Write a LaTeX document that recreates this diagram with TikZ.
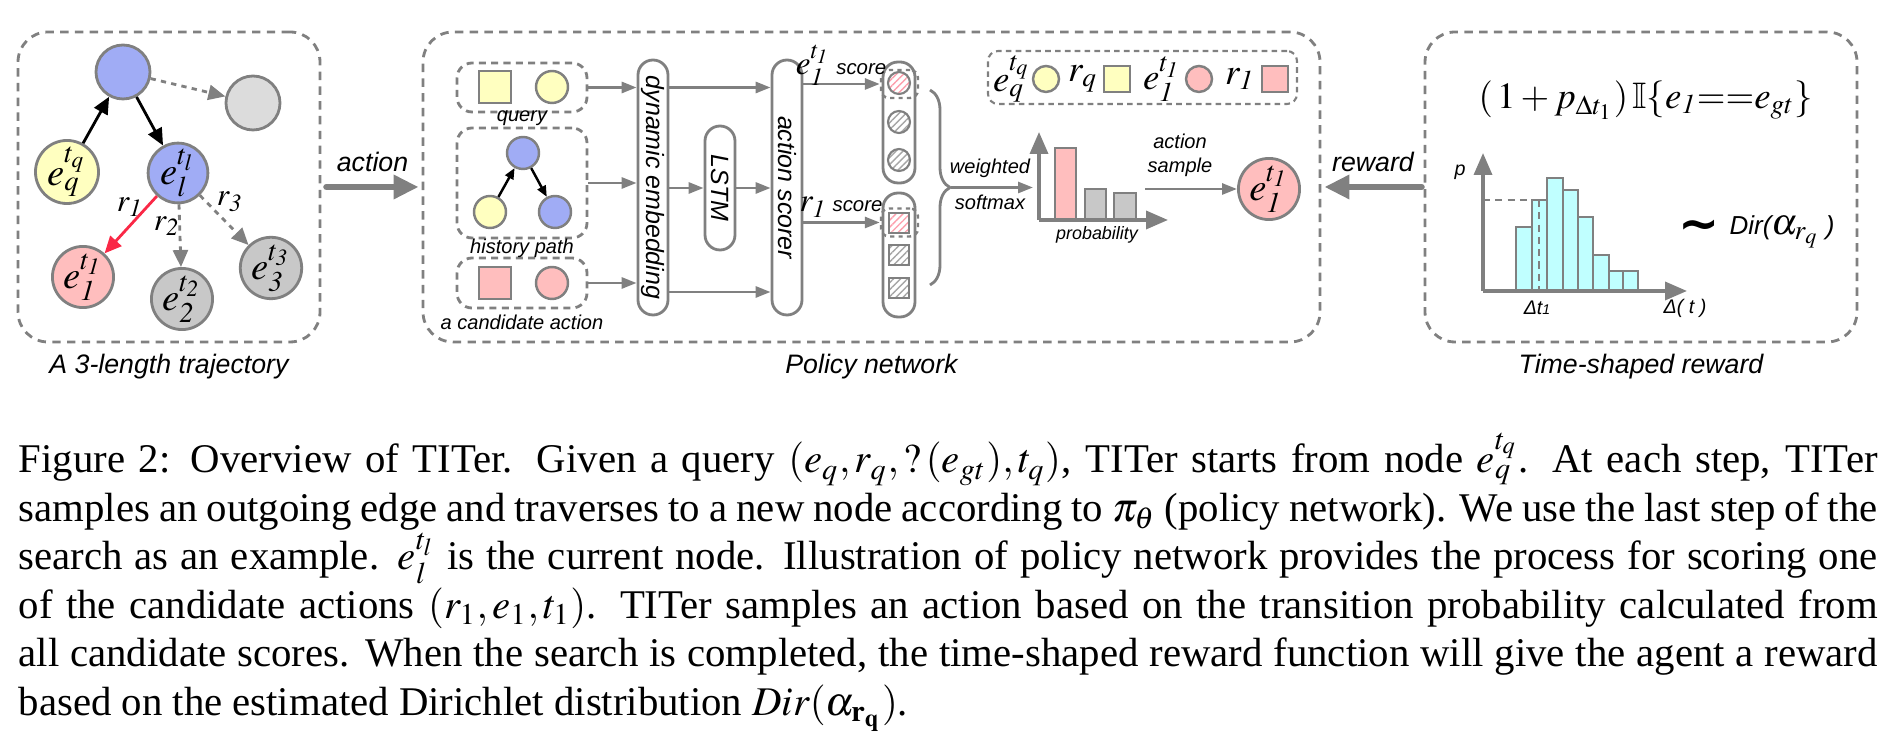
\documentclass[tikz,border=0pt]{standalone}
\usepackage{mathptmx}
\usepackage{amssymb}
\usepackage{fontspec}
\setmainfont{Liberation Serif}
\setsansfont{Liberation Sans}
\newfontfamily\symbfont{DejaVu Sans}
\usetikzlibrary{arrows.meta,positioning,patterns.meta,decorations.pathreplacing}

\definecolor{nodeblue}{RGB}{160,172,245}
\definecolor{nodeyellow}{RGB}{255,255,192}
\definecolor{nodepink}{RGB}{255,190,190}
\definecolor{nodegray}{RGB}{200,200,200}
\definecolor{nodelight}{RGB}{220,220,220}
\definecolor{edgegray}{RGB}{128,128,128}
\definecolor{barcyan}{RGB}{192,255,255}
\definecolor{arrowred}{RGB}{250,40,70}

\newcommand{\capline}[1]{\makebox[185.9mm][s]{#1}}

\begin{document}
\begin{tikzpicture}[x=0.1mm, y=-0.1mm]
\tikzstyle{panel} = [draw=edgegray, line width=0.8pt, dash pattern=on 2.4pt off 1.8pt, rounded corners=3mm, minimum height=31mm]
\tikzstyle{subpanel} = [draw=edgegray, line width=0.8pt, dash pattern=on 2pt off 1.5pt, rounded corners=1.5mm, minimum width=13mm]
\tikzstyle{ent} = [circle, draw=edgegray, line width=0.8pt, minimum size=5.4mm, inner sep=0pt, font=\fontsize{11}{11}\selectfont]
\tikzstyle{dot} = [circle, draw=edgegray, line width=0.7pt, minimum size=3.2mm, inner sep=0pt]
\tikzstyle{sq} = [rectangle, draw=edgegray, line width=0.7pt, minimum size=3.2mm, inner sep=0pt]
\tikzstyle{capsule} = [rectangle, draw=edgegray, line width=0.8pt, rounded corners=1.5mm, minimum width=3mm, inner sep=0pt, fill=white]
\tikzstyle{hilite} = [rectangle, draw=edgegray, line width=0.7pt, dash pattern=on 1.2pt off 1.2pt, rounded corners=0.8mm, minimum width=3.7mm, minimum height=2.8mm]
\tikzstyle{lbl} = [font=\sffamily\itshape\fontsize{7.6}{9}\selectfont, inner sep=0pt]
\tikzstyle{rot} = [font=\sffamily\itshape\fontsize{7.1}{8}\selectfont, inner sep=0pt, rotate=-90]
\tikzstyle{small} = [font=\sffamily\itshape\fontsize{5.7}{6.9}\selectfont, inner sep=0pt]
\tikzstyle{arrow} = [draw=black, line width=0.8pt, -{Triangle[length=1.7mm, width=1.5mm]}]
\tikzstyle{smallarrow} = [draw=black, line width=0.7pt, -{Triangle[length=1.1mm, width=0.9mm]}]
\tikzstyle{maybe} = [draw=edgegray, line width=0.8pt, dash pattern=on 1.5pt off 1.5pt, -{Triangle[length=1.7mm, width=1.5mm]}]
\tikzstyle{flow} = [draw=edgegray, line width=0.8pt, -{Triangle[length=1.5mm, width=1.1mm]}]
\tikzstyle{bigflow} = [draw=edgegray, line width=1.8pt, line cap=round, -{Triangle[length=2.5mm, width=2.3mm]}]
\tikzstyle{axis} = [draw=edgegray, line width=1pt, -{Triangle[length=2.2mm, width=1.8mm]}]
\tikzstyle{bar} = [draw=edgegray, line width=0.8pt]
\tikzstyle{guide} = [draw=edgegray, line width=0.8pt, dash pattern=on 2pt off 1.5pt]
\tikzstyle{capt} = [anchor=base west, inner sep=0pt, font=\fontsize{11.6}{13.9}\selectfont]
\useasboundingbox (0,0) rectangle (1895,748);

% three panels
\node [panel, minimum width=30.2mm] (traj) at (169,187) {};
\node [panel, minimum width=89.7mm] (policy) at (871.5,187) {};
\node [panel, minimum width=43.2mm] (timerew) at (1641,187) {};
\node [lbl, below=1mm of traj] (trajlbl) {A 3-length trajectory};
\node [lbl, below=1mm of policy] (policylbl) {Policy network};
\node [lbl, below=1mm of timerew] (timerewlbl) {Time-shaped reward};

% trajectory
\node [ent, fill=nodeblue] (root) at (123,72) {};
\node [ent, fill=nodelight] (skip) at (253,103) {};
\node [ent, fill=nodeyellow] (eq) at (67,172) {$e_q^{t_q}$};
\node [ent, fill=nodeblue] (el) at (178,173) {$e_l^{t_l}$};
\node [ent, fill=nodepink] (ea) at (83,277) {$e_{\mathit 1}^{t_{\mathit 1}}$};
\node [ent, fill=nodegray] (eb) at (182,299) {$e_{\mathit 2}^{t_{\mathit 2}}$};
\node [ent, fill=nodegray] (ec) at (271,268) {$e_{\mathit 3}^{t_{\mathit 3}}$};
\draw [arrow] (eq) -- (root);
\draw [arrow] (root) -- (el);
\draw [maybe] (root) -- (skip);
\draw [arrow, draw=arrowred] (el) -- (ea);
\draw [maybe] (el) -- (eb);
\draw [maybe] (el) -- (ec);
\node [font=\fontsize{9}{9}\selectfont] (rone) at (130,207) {$r_{\mathit 1}$};
\node [font=\fontsize{9}{9}\selectfont] (rtwo) at (167,226) {$r_{\mathit 2}$};
\node [font=\fontsize{9}{9}\selectfont] (rthree) at (230,202) {$r_{\mathit 3}$};

\draw [bigflow] ([xshift=0.5mm]traj.east) -- ([xshift=-0.3mm]policy.west) node [lbl, midway, above=1.2mm] (actlbl) {action};
\draw [bigflow] ([xshift=-0.2mm]timerew.west) -- ([xshift=0.3mm]policy.east) node [lbl, midway, above=1.2mm] (rewlbl) {reward};

% inputs
\node [subpanel, minimum height=4.9mm] (qbox) at (522,87.5) {};
\node [subpanel, minimum height=11mm] (hbox) at (522,183) {};
\node [subpanel, minimum height=5mm] (cbox) at (522,283) {};
\node [small] (qlbl) at (522,118) {query};
\node [small] (hlbl) at (522,248) {history path};
\node [small] (clbl) at (522,322) {a candidate action};
\node [sq, fill=nodeyellow] (qrel) at (495,87) {};
\node [dot, fill=nodeyellow] (qent) at (552,87) {};
\node [dot, fill=nodeblue] (htop) at (523,153) {};
\node [dot, fill=nodeyellow] (hleft) at (490,212) {};
\node [dot, fill=nodeblue] (hright) at (555,212) {};
\draw [smallarrow] (hleft) -- (htop);
\draw [smallarrow] (htop) -- (hright);
\node [sq, fill=nodepink] (crel) at (495,283) {};
\node [dot, fill=nodepink] (cent) at (552,283) {};

% embedding, lstm, scorer
\node [capsule, minimum height=25.5mm] (dyn) at (653,187.5) {};
\node [rot] (dynlbl) at (dyn.center) {dynamic embedding};
\node [capsule, minimum height=12.4mm] (lstm) at (720,188) {};
\node [rot] (lstmlbl) at (lstm.center) {LSTM};
\node [capsule, minimum height=25.5mm] (scorer) at (787,187.5) {};
\node [rot] (scorerlbl) at (scorer.center) {action scorer};
\draw [flow] (qbox.east) -- (qbox.east -| dyn.west);
\draw [flow] (hbox.east) -- (hbox.east -| dyn.west);
\draw [flow] (cbox.east) -- (cbox.east -| dyn.west);
\draw [flow] (dyn.east |- qbox.east) -- (scorer.west |- qbox.east);
\draw [flow] (dyn.east |- lstm.west) -- (lstm.west);
\draw [flow] (lstm.east) -- (lstm.east -| scorer.west);
\draw [flow] (dyn.east |- 0,292) -- (scorer.west |- 0,292);

% candidate scores
\node [capsule, minimum width=3.2mm, minimum height=12.1mm] (ecol) at (899,122.5) {};
\node [capsule, minimum width=3.2mm, minimum height=12.4mm] (rcol) at (899,255) {};
\node [circle, draw=edgegray, line width=0.6pt, minimum size=2.2mm, inner sep=0pt, pattern={Lines[angle=45, distance=1.4pt, line width=0.4pt]}, pattern color=arrowred!45] (eh1) at (899,83) {};
\node [circle, draw=edgegray, line width=0.6pt, minimum size=2.2mm, inner sep=0pt, pattern={Lines[angle=45, distance=1.4pt, line width=0.4pt]}, pattern color=edgegray!70] (eh2) at (899,122) {};
\node [circle, draw=edgegray, line width=0.6pt, minimum size=2.2mm, inner sep=0pt, pattern={Lines[angle=45, distance=1.4pt, line width=0.4pt]}, pattern color=edgegray!70] (eh3) at (899,160) {};
\node [rectangle, draw=edgegray, line width=0.6pt, minimum size=2mm, inner sep=0pt, pattern={Lines[angle=45, distance=1.4pt, line width=0.4pt]}, pattern color=arrowred!45] (rh1) at (899,223) {};
\node [rectangle, draw=edgegray, line width=0.6pt, minimum size=2mm, inner sep=0pt, pattern={Lines[angle=45, distance=1.4pt, line width=0.4pt]}, pattern color=edgegray!70] (rh2) at (899,255) {};
\node [rectangle, draw=edgegray, line width=0.6pt, minimum size=2mm, inner sep=0pt, pattern={Lines[angle=45, distance=1.4pt, line width=0.4pt]}, pattern color=edgegray!70] (rh3) at (899,288) {};
\node [hilite] (ehi) at (899.5,84) {};
\node [hilite] (rhi) at (899.5,222.5) {};
\draw [flow] (scorer.east |- ehi.west) -- (ehi.west);
\draw [flow] (scorer.east |- rhi.west) -- (rhi.west);
\node [anchor=base, inner sep=0pt] (escore) at (841,75) {{\fontsize{9.5}{10}\selectfont$e_{\mathit 1}^{t_{\mathit 1}}$}\,{\sffamily\itshape\fontsize{5.8}{7}\selectfont score}};
\node [anchor=base, inner sep=0pt] (rscore) at (841,212) {{\fontsize{9.5}{10}\selectfont$r_{\mathit 1}$}\,{\sffamily\itshape\fontsize{5.8}{7}\selectfont score}};

% softmax and sampling
\draw [edgegray, line width=0.8pt, decorate, decoration={brace, amplitude=2mm}] (930,90) -- (930,285);
\coordinate (btip) at (951,187.5);
\coordinate (chartin) at (1033,187.5);
\draw [flow] (btip) -- (chartin);
\node [small] (wlbl) at (990,168) {weighted};
\node [small] (slbl) at (990,202) {softmax};
\coordinate (porig) at (1039,220);
\draw [bar, fill=nodepink] (1055,220) rectangle (1076,148);
\draw [bar, fill=nodegray] (1085,220) rectangle (1106,189);
\draw [bar, fill=nodegray] (1114,220) rectangle (1136,193);
\draw [axis] (porig) -- (1039,132);
\draw [axis] (porig) -- (1168,220);
\node [small, font=\sffamily\itshape\fontsize{5.1}{6}\selectfont] (problbl) at (1097,235) {probability};
\node [small, align=center] (smplbl) at (1180,155) {action\\sample};
\node [ent, fill=nodepink] (pick) at (1269,189) {$e_{\mathit 1}^{t_{\mathit 1}}$};
\coordinate (smp) at (1145,189);
\draw [flow] (smp) -- (pick.west);

% legend
\node [rectangle, draw=edgegray, line width=0.6pt, dash pattern=on 1.6pt off 1.2pt, rounded corners=1mm, minimum width=30.9mm, minimum height=5.3mm] (legend) at (1142.5,77.5) {};
\node [font=\fontsize{10.5}{11}\selectfont, inner sep=0pt] (lgeq) at (1012,79) {$e_q^{t_q}$};
\node [dot, fill=nodeyellow, minimum size=2.6mm] (lgeqd) at (1046,79) {};
\node [font=\fontsize{10.5}{11}\selectfont, inner sep=0pt] (lgrq) at (1083,79) {$r_q$};
\node [sq, fill=nodeyellow, minimum size=2.6mm] (lgrqs) at (1117,79) {};
\node [font=\fontsize{10.5}{11}\selectfont, inner sep=0pt] (lgea) at (1162,79) {$e_{\mathit 1}^{t_{\mathit 1}}$};
\node [dot, fill=nodepink, minimum size=2.6mm] (lgead) at (1199,79) {};
\node [font=\fontsize{10.5}{11}\selectfont, inner sep=0pt] (lgra) at (1240,79) {$r_{\mathit 1}$};
\node [sq, fill=nodepink, minimum size=2.6mm] (lgras) at (1275,79) {};

% time-shaped reward
\node [font=\fontsize{10.5}{11}\selectfont] (formula) at (1646,100) {$(\,1+p_{\Delta t_{1}})\,\mathbb{I}\{e_{\mathit 1}{=}{=}e_{gt}\}$};
\coordinate (horig) at (1483,291);
\foreach \xa/\xb/\yt in {1516/1532/227, 1532/1547/200, 1547/1563/178, 1563/1578/190, 1578/1593/217, 1593/1609/255, 1609/1623/271, 1623/1638/271}
  \draw [bar, fill=barcyan] (\xa,291) rectangle (\xb,\yt);
\draw [guide] (1483,200) -- (1532,200);
\draw [guide] (1539,200) -- (1539,291);
\draw [axis] (horig) -- (1483,153);
\draw [axis] (horig) -- (1687,291);
\node [small, font=\sffamily\itshape\fontsize{5.6}{6}\selectfont] (plbl) at (1460,172) {p};
\node [small, font=\sffamily\itshape\fontsize{5.6}{6}\selectfont] (dtlbl) at (1537,308) {Δt{\fontsize{4}{4}\selectfont 1}};
\node [small, font=\sffamily\itshape\fontsize{5.6}{6}\selectfont] (dlbl) at (1685,308) {Δ( t )};
\node [inner sep=0pt, font=\symbfont\bfseries\fontsize{14}{14}\selectfont] (tilde) at (1699,230) {∼};
\node [inner sep=0pt] (dir) at (1782,232) {{\sffamily\itshape\fontsize{7.4}{8}\selectfont Dir(}{\fontsize{10.5}{11}\selectfont$\alpha_{r_q}$}\,{\sffamily\itshape\fontsize{7.4}{8}\selectfont )}};

% caption
\node [capt] (cap1) at (18,473) {\capline{Figure 2: Overview of TITer. Given a query $(e_q,r_q,?\,(e_{gt}),t_q)$, TITer starts from node $e_q^{t_q}$. At each step, TITer}};
\node [capt] (cap2) at (18,521.5) {\capline{samples an outgoing edge and traverses to a new node according to $\pi_\theta$ (policy network). We use the last step of the}};
\node [capt] (cap3) at (18,570) {\capline{search as an example. $e_l^{t_l}$ is the current node. Illustration of policy network provides the process for scoring one}};
\node [capt] (cap4) at (18,618.5) {\capline{of the candidate actions $(r_1,e_1,t_1)$. TITer samples an action based on the transition probability calculated from}};
\node [capt] (cap5) at (18,667) {\capline{all candidate scores. When the search is completed, the time-shaped reward function will give the agent a reward}};
\node [capt] (cap6) at (18,715.5) {based on the estimated Dirichlet distribution $Dir(\alpha_{\mathbf{r_q}})$.};
\end{tikzpicture}
\end{document}
